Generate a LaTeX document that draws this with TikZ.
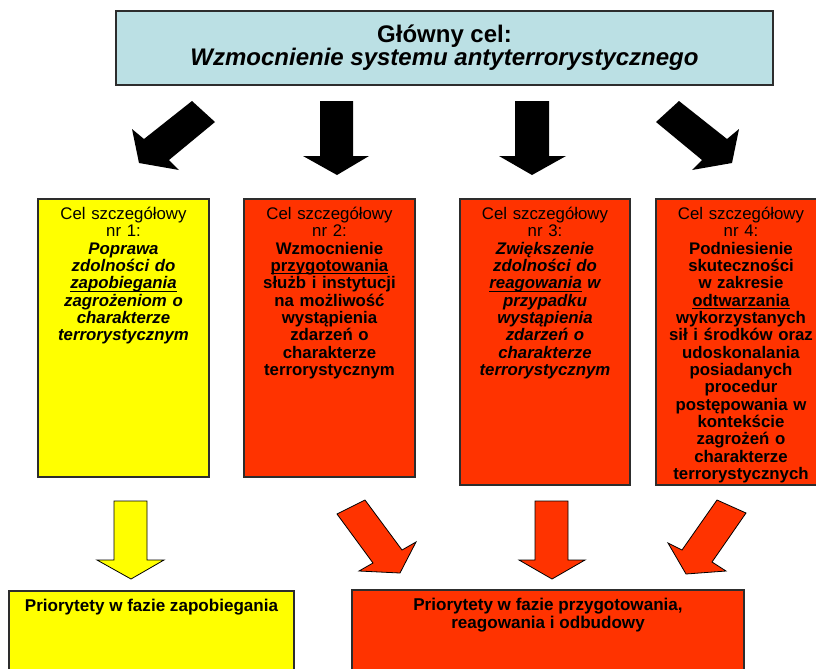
\documentclass[tikz,border=0pt]{standalone}
\usepackage{fontspec}
\setmainfont{Liberation Sans}
\usetikzlibrary{positioning}
\definecolor{goalblue}{RGB}{187,224,228}
\definecolor{goalyellow}{RGB}{255,255,0}
\definecolor{goalred}{RGB}{255,51,0}
\definecolor{edgegray}{RGB}{45,45,45}
\newcommand{\ulword}[1]{\underline{\smash{#1}}}
\tikzset{
  box/.style={draw=edgegray, line width=1.1pt, inner sep=0pt},
  celtext/.style={anchor=north, align=center, text width=126pt, inner sep=0pt,
    font=\fontsize{12.6}{13}\selectfont},
  prtext/.style={anchor=north, align=center, inner sep=0pt,
    font=\bfseries\fontsize{12.8}{13.3}\selectfont},
  blackarrow/.style={fill=black},
  colarrow/.style={draw=black, line width=0.6pt},
}
\begin{document}
\begin{tikzpicture}[x=0.75pt,y=-0.75pt]
  \useasboundingbox (0,0) rectangle (816,668);
  \node[box, fill=goalblue, minimum width=492.75pt, minimum height=55.5pt,
    align=center, font=\bfseries\fontsize{18}{17.5}\selectfont] (cel) at (444.5,48)
    {Główny cel:\\ \textit{Wzmocnienie systemu antyterrorystycznego}};
  \node[box, fill=goalyellow, minimum width=128.25pt, minimum height=208.5pt] (c1) at (123.5,338) {};
  \node[box, fill=goalred, minimum width=128.25pt, minimum height=208.5pt] (c2) at (329.5,338) {};
  \node[box, fill=goalred, minimum width=127.5pt, minimum height=214.5pt] (c3) at (545,342) {};
  \node[box, fill=goalred, minimum width=127.5pt, minimum height=214.5pt] (c4) at (741,342) {};
  \node[celtext] (t1) at ([yshift=-6.5pt]c1.north)
    {Cel szczegółowy\\ nr 1:\\ {\bfseries\itshape Poprawa\\ zdolności do\\
    \ulword{zapobiegania}\\ zagrożeniom o\\ charakterze\\ terrorystycznym}};
  \node[celtext] (t2) at ([yshift=-6.5pt]c2.north)
    {Cel szczegółowy\\ nr 2:\\ {\bfseries Wzmocnienie\\ \ulword{przygotowania}\\
    służb i instytucji\\ na możliwość\\ wystąpienia\\ zdarzeń o\\ charakterze\\ terrorystycznym}};
  \node[celtext] (t3) at ([yshift=-6.5pt]c3.north)
    {Cel szczegółowy\\ nr 3:\\ {\bfseries\itshape Zwiększenie\\ zdolności do\\
    \ulword{reagowania} w\\ przypadku\\ wystąpienia\\ zdarzeń o\\ charakterze\\ terrorystycznym}};
  \node[celtext] (t4) at ([yshift=-6.5pt]c4.north)
    {Cel szczegółowy\\ nr 4:\\ {\bfseries Podniesienie\\ skuteczności\\ w zakresie\\
    \ulword{odtwarzania}\\ wykorzystanych\\ sił i środków oraz\\ udoskonalania\\
    posiadanych\\ procedur\\ postępowania w\\ kontekście\\ zagrożeń o\\ charakterze\\
    terrorystycznych}};
  \node[box, fill=goalyellow, minimum width=213.75pt, minimum height=81.75pt] (p1) at (151.5,645.5) {};
  \node[box, fill=goalred, minimum width=294pt, minimum height=82.5pt] (p2) at (548,645) {};
  \node[prtext] (pt1) at ([yshift=-6.5pt]p1.north) {Priorytety w fazie zapobiegania};
  \node[prtext] (pt2) at ([yshift=-6.5pt]p2.north) {Priorytety w fazie przygotowania,\\ reagowania i odbudowy};
  \begin{scope}[blackarrow]
    \fill (192,101) -- (215,122) -- (169,160) -- (179,170) -- (139,163) -- (132,129) -- (144,139) -- cycle;
    \fill (320,101) -- (353,101) -- (353,156) -- (369,156) -- (337,175) -- (303,156) -- (320,156) -- cycle;
    \fill (515,101) -- (549,101) -- (549,156) -- (566,156) -- (532,175) -- (499,156) -- (515,156) -- cycle;
    \fill (679,101) -- (656,122) -- (702,160) -- (692,170) -- (732,163) -- (739,129) -- (727,139) -- cycle;
  \end{scope}
  \begin{scope}[colarrow]
    \filldraw[fill=goalyellow] (114,501) -- (147,501) -- (147,560) -- (164,560) -- (131,579) -- (97,560) -- (114,560) -- cycle;
    \filldraw[fill=goalred] (337,514) -- (365,500) -- (402,550) -- (416,542) -- (400,573) -- (359,571) -- (373,563) -- cycle;
    \filldraw[fill=goalred] (535,501) -- (568,501) -- (568,560) -- (585,560) -- (552,579) -- (519,560) -- (535,560) -- cycle;
    \filldraw[fill=goalred] (717,500) -- (746,513) -- (712,562) -- (726,571) -- (686,574) -- (668,543) -- (682,550) -- cycle;
  \end{scope}
\end{tikzpicture}
\end{document}
